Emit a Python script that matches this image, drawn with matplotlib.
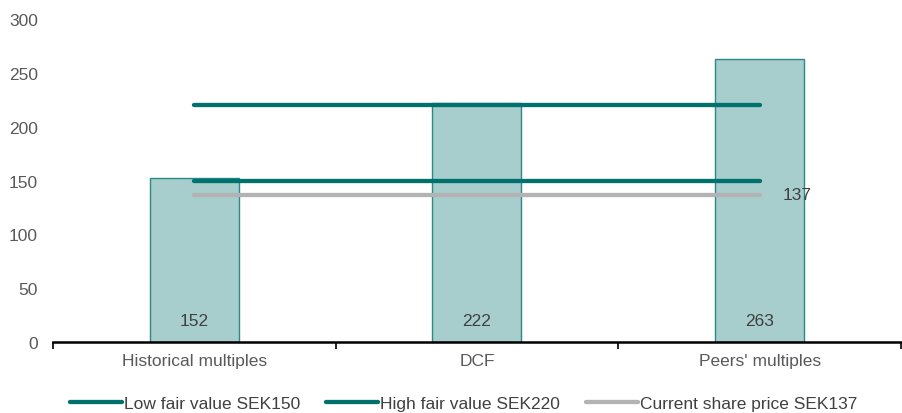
import numpy as np
import matplotlib.pyplot as plt

plt.rcParams['font.family'] = ['Liberation Sans', 'DejaVu Sans']

methods = ["Historical multiples", "DCF", "Peers' multiples"]
fair_values = [152, 222, 263]
low_fair = 150
high_fair = 220
share_price = 137
legend_labels = ["Low fair value SEK150", "High fair value SEK220", "Current share price SEK137"]

teal = "#00716C"
bar_fill = "#A7CDCD"
bar_edge = "#2A8A88"
grey = "#B3B3B3"
text_col = "#595959"
fs = 12.5

fig = plt.figure(figsize=(9.02, 4.14), dpi=100)
ax = fig.add_axes([0.0588, 0.1715, 0.94, 0.78])

x = np.arange(len(methods))
ax.bar(x, fair_values, width=0.315, color=bar_fill, edgecolor=bar_edge, linewidth=1, zorder=1)
for xi, v in zip(x, fair_values):
    ax.text(xi, 20, str(v), ha='center', va='center', fontsize=fs, color="#404040", zorder=4)

l1, = ax.plot(x, [low_fair] * len(x), color=teal, lw=3.1, solid_capstyle='round', zorder=3)
l2, = ax.plot(x, [high_fair] * len(x), color=teal, lw=3.1, solid_capstyle='round', zorder=3)
l3, = ax.plot(x, [share_price] * len(x), color=grey, lw=3.1, solid_capstyle='round', zorder=2)
ax.text(x[-1] + 0.08, share_price, str(share_price), ha='left', va='center',
        fontsize=fs, color="#404040", zorder=4)

ax.set_xlim(-0.5, 2.5)
ax.set_ylim(0, 300)
ax.set_yticks(range(0, 301, 50))
ax.set_xticks(x)
ax.set_xticklabels(methods)
ax.set_xticks([-0.5, 0.5, 1.5, 2.5], minor=True)
ax.tick_params(axis='x', which='major', length=0, pad=8, labelsize=fs, labelcolor=text_col)
ax.tick_params(axis='x', which='minor', length=5, width=1.2, color='black', direction='out')
ax.tick_params(axis='y', length=0, pad=11, labelsize=fs, labelcolor=text_col)
for s in ['top', 'right', 'left']:
    ax.spines[s].set_visible(False)
ax.spines['bottom'].set_linewidth(1.8)
ax.spines['bottom'].set_color('black')

fig.legend([l1, l2, l3], legend_labels, loc='center', bbox_to_anchor=(0.514, 0.022),
           ncol=3, frameon=False, fontsize=fs, handlelength=3.0, handletextpad=0.1,
           columnspacing=1.5, labelcolor="#404040")

fig.savefig("out.png", dpi=100)
